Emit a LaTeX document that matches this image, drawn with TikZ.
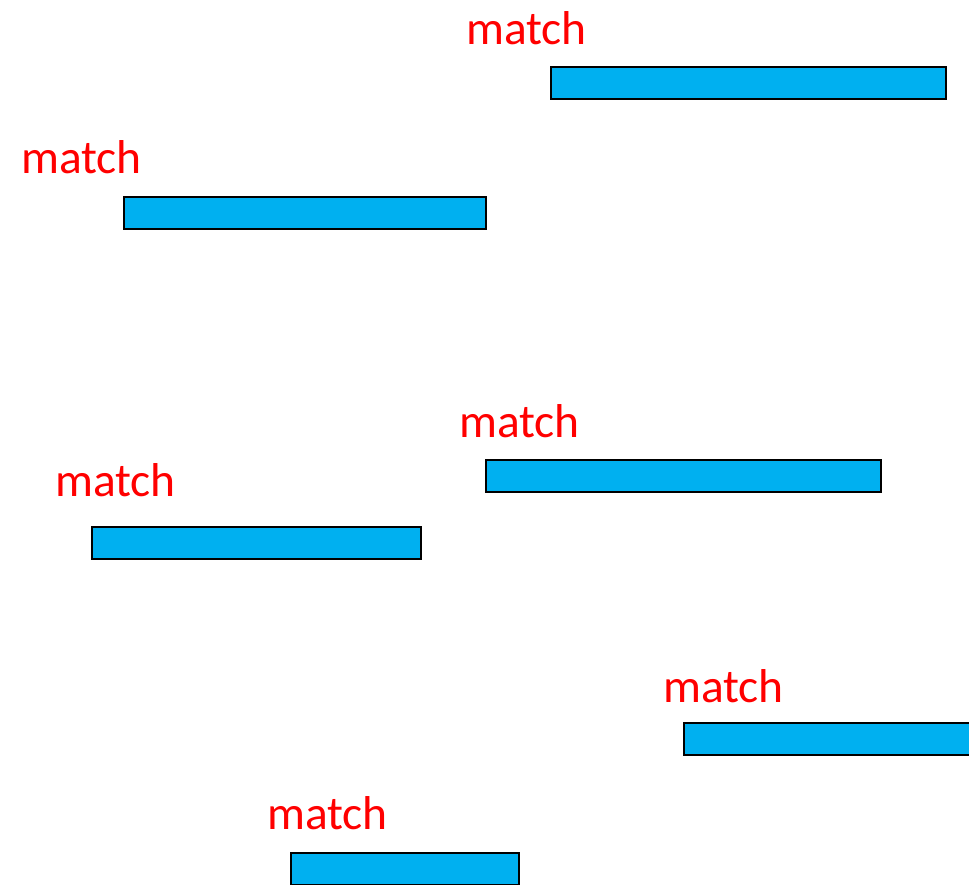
\documentclass[tikz,border=0pt]{standalone}
\usepackage{fontspec}
\setmainfont{Carlito}
\usepackage{xcolor}
\definecolor{barcyan}{RGB}{0,176,240}
\definecolor{matchred}{RGB}{255,0,0}
\usetikzlibrary{positioning}
\tikzset{
  segbar/.style={draw=black, line width=2.2pt, fill=barcyan, inner sep=0pt,
                 anchor=north west, minimum height=32pt},
  matchtag/.style={text=matchred, inner sep=0pt, anchor=base west,
                   font=\fontsize{47.5}{57}\selectfont}
}

\begin{document}
\begin{tikzpicture}[x=1pt, y=-1pt]
    \useasboundingbox (0,0) rectangle (969,884);
    \clip (0,0) rectangle (969,884);
    % first pair
    \node[segbar, minimum width=395pt] (b1) at (550,66) {};
    \node[matchtag] (m1) at (466,44) {match};
    \node[segbar, minimum width=362pt] (b2) at (123,196) {};
    \node[matchtag] (m2) at (21,173) {match};
    % second pair
    \node[segbar, minimum width=395pt] (b3) at (485,459) {};
    \node[matchtag] (m3) at (459,437) {match};
    \node[segbar, minimum width=329pt] (b4) at (91,526) {};
    \node[matchtag] (m4) at (55,496) {match};
    % third pair, running off the edges
    \node[segbar, minimum width=320pt] (b5) at (683,722) {};
    \node[matchtag] (m5) at (663,702) {match};
    \node[segbar, minimum width=228pt] (b6) at (290,852) {};
    \node[matchtag] (m6) at (267,829) {match};
  \end{tikzpicture}
\end{document}
